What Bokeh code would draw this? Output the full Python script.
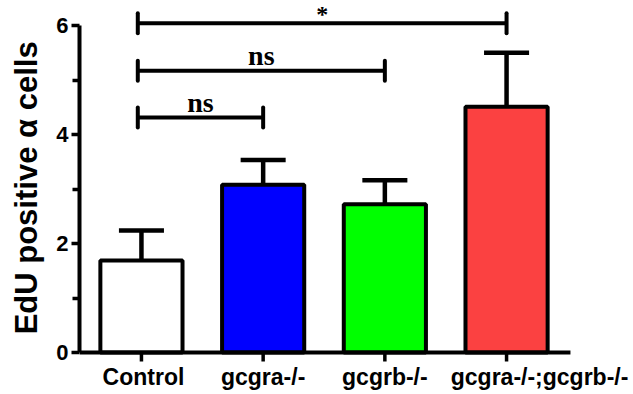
from bokeh.plotting import figure
from bokeh.models import Range1d, FixedTicker
from bokeh.core.properties import value
from bokeh.embed import file_html
from bokeh.resources import INLINE

# ---- data ----
categories = ["Control", "gcgra-/-", "gcgrb-/-", "gcgra-/-;gcgrb-/-"]
means = [1.69, 3.08, 2.72, 4.51]
sems = [0.55, 0.45, 0.44, 0.99]
bar_colors = ["#FFFFFF", "#0000FF", "#00FF00", "#FB4141"]
y_ticks = [0, 2, 4, 6]
y_minor = [1, 3, 5]
# significance brackets: (from index, to index, height, label)
cmp_from = [0, 0, 0]
cmp_to = [1, 2, 3]
cmp_y = [4.31, 5.17, 6.04]
cmp_text = ["ns", "ns", "*"]

xs = list(range(len(categories)))
PX = 54.5          # pixels per y unit (layout helper)
X_START = -0.509   # left edge of plotting area
X_AXIS_END = 3.525 # where the drawn x axis line stops

p = figure(width=633, height=392, output_backend="svg", toolbar_location=None,
           x_range=Range1d(X_START, 4.043), y_range=Range1d(-40 / PX, 6 + 25 / PX),
           min_border_left=79, min_border_right=0, min_border_top=0,
           min_border_bottom=0)
p.outline_line_color = None
p.xgrid.visible = False
p.ygrid.visible = False
p.xaxis.visible = False
p.background_fill_color = "white"

# bars
p.vbar(x=xs, top=means, width=0.675, bottom=0, fill_color=bar_colors,
       line_color="black", line_width=4)

# error bars (upper only)
tops = [m + s for m, s in zip(means, sems)]
p.segment(x0=xs, y0=means, x1=xs, y1=tops, line_color="black", line_width=4.5)
cap = 0.185
p.segment(x0=[x - cap for x in xs], y0=tops, x1=[x + cap for x in xs], y1=tops,
          line_color="black", line_width=4.5)

# x axis baseline, ticks and category labels
p.segment(x0=[X_START], y0=[0], x1=[X_AXIS_END], y1=[0],
          line_color="black", line_width=4)
p.segment(x0=xs, y0=[0] * len(xs), x1=xs, y1=[-9 / PX] * len(xs),
          line_color="black", line_width=3.5)
label_offsets = [2, 0, 0, 33]
p.text(x=xs, y=[-24 / PX] * len(xs), text=categories, x_offset=label_offsets,
       text_font=value("Liberation Sans"), text_font_style="bold",
       text_font_size="23px", text_align="center", text_baseline="middle",
       text_color="black")

# significance brackets
tick_h = 10 / PX
p.segment(x0=[x - 0.03 for x in cmp_from], y0=cmp_y, x1=cmp_to, y1=cmp_y,
          line_color="black", line_width=4)
p.segment(x0=[x - 0.03 for x in cmp_from], y0=[y - tick_h for y in cmp_y],
          x1=[x - 0.03 for x in cmp_from], y1=[y + tick_h for y in cmp_y],
          line_color="black", line_width=4, line_cap="round")
p.segment(x0=cmp_to, y0=[y - tick_h for y in cmp_y],
          x1=cmp_to, y1=[y + tick_h for y in cmp_y],
          line_color="black", line_width=4, line_cap="round")
mids = [(a - 0.03 + b) / 2 for a, b in zip(cmp_from, cmp_to)]
p.text(x=mids[:2], y=cmp_y[:2], y_offset=-15, text=cmp_text[:2],
       text_font=value("Liberation Serif"), text_font_style="bold",
       text_font_size="28px", text_align="center", text_baseline="middle",
       text_color="black")
p.text(x=mids[2:], y=cmp_y[2:], y_offset=-9, text=cmp_text[2:],
       text_font=value("Liberation Serif"), text_font_style="bold",
       text_font_size="24px", text_align="center", text_baseline="middle",
       text_color="black")

# y axis
ya = p.yaxis[0]
ya.ticker = FixedTicker(ticks=y_ticks, minor_ticks=y_minor)
ya.bounds = (0, 6)
ya.axis_line_width = 4
ya.major_tick_line_width = 3.5
ya.minor_tick_line_width = 3.5
ya.major_tick_out = 8
ya.major_tick_in = 0
ya.minor_tick_out = 7
ya.minor_tick_in = 0
ya.major_label_text_font = "Liberation Sans"
ya.major_label_text_font_style = "bold"
ya.major_label_text_font_size = "22px"
ya.major_label_text_color = "black"
ya.major_label_standoff = 3
ya.axis_label = "\u00a0\u00a0EdU positive \u03b1 cells"
ya.axis_label_text_font = "Liberation Sans"
ya.axis_label_text_font_style = "bold"
ya.axis_label_text_font_size = "31px"
ya.axis_label_text_color = "black"
ya.axis_label_standoff = 9

open("out.html", "w").write(file_html(p, INLINE))
